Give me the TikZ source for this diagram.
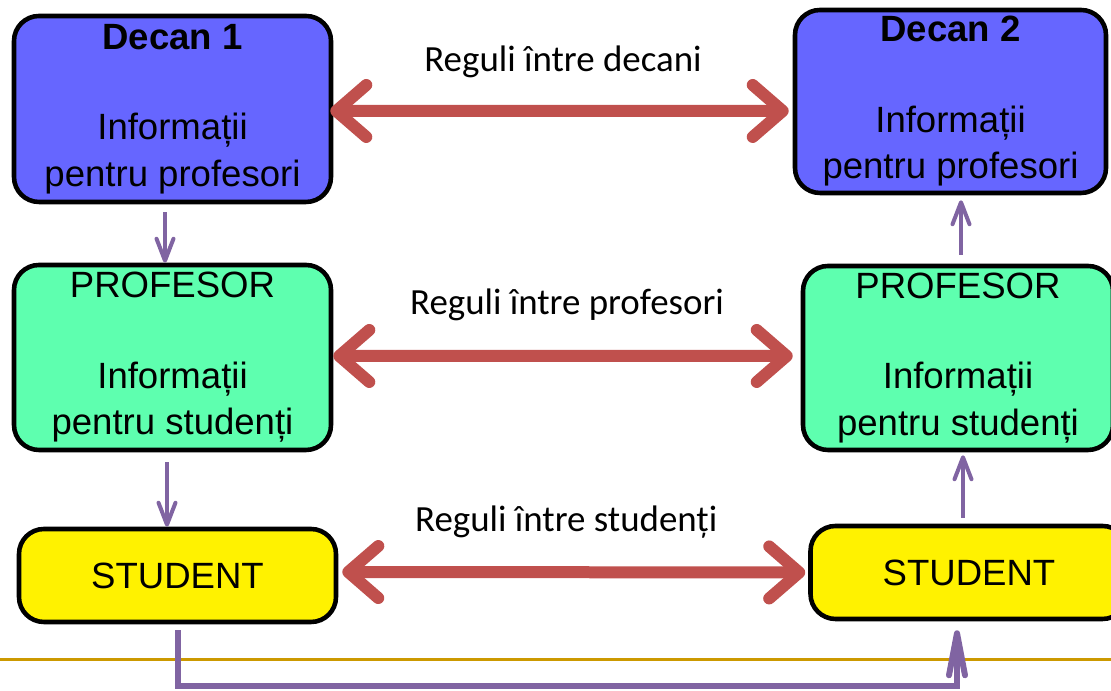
\documentclass[tikz,border=0pt]{standalone}
\usepackage{fontspec}
\setmainfont{Liberation Sans}
\newfontfamily\rulefont{Carlito}
\usetikzlibrary{arrows.meta}

\definecolor{decanblue}{HTML}{6666FF}
\definecolor{profgreen}{HTML}{5EFFAF}
\definecolor{rulered}{HTML}{C0504D}
\definecolor{flowpurple}{HTML}{8064A2}
\definecolor{linegold}{HTML}{CC9900}

\begin{document}
\begin{tikzpicture}
\tikzset{ box/.style={draw=black, line width=1.3pt, rounded corners=0.25cm, align=center, inner sep=0pt,
                      font=\fontsize{10.4}{13.3}\selectfont},
          rule/.style={{Straight Barb[round,length=0.3cm,width=0.52cm]}-{Straight Barb[round,length=0.3cm,width=0.52cm]},
                       line width=0.12cm, rulered},
          flow/.style={-{Straight Barb[round,length=0.22cm,width=0.17cm]}, line width=0.04cm, flowpurple},
          lbl/.style={font=\rulefont\fontsize{10.5}{12}\selectfont, inner sep=0pt, text=black},
}

\useasboundingbox (0,0) rectangle (11.11,6.91);
\clip (0,0) rectangle (11.11,6.91);

%\draw [lightgray, dashed](0,0) grid (11,7);

\node [box, fill=decanblue, minimum width=3.17cm, minimum height=1.86cm] (D1) at (1.725,5.82)
      {\textbf{Decan 1}\\[12.4pt]Informații\\pentru profesori};
\node [box, fill=decanblue, minimum width=3.11cm, minimum height=1.83cm] (D2) at (9.505,5.895)
      {\textbf{Decan 2}\\[12.4pt]Informații\\pentru profesori};
\node [box, fill=profgreen, minimum width=3.17cm, minimum height=1.85cm] (P1) at (1.725,3.335)
      {PROFESOR\\[12.4pt]Informații\\pentru studenți};
\node [box, fill=profgreen, minimum width=3.10cm, minimum height=1.84cm] (P2) at (9.58,3.33)
      {PROFESOR\\[12.4pt]Informații\\pentru studenți};
\node [box, fill=yellow, minimum width=3.17cm, minimum height=0.93cm] (S1) at (1.775,1.155) {STUDENT};
\node [box, fill=yellow, minimum width=3.17cm, minimum height=0.93cm] (S2) at (9.69,1.185) {STUDENT};

\draw [rule, shorten <=-0.03cm, shorten >=0.04cm] ([yshift=-0.2mm]D1.east) -- ([yshift=-0.95mm]D2.west)
      node [lbl, midway, yshift=0.49cm] (R1) {Reguli între decani};
\draw [rule, shorten >=0.08cm] ([yshift=0.15mm]P1.east) -- ([yshift=0.2mm]P2.west)
      node [lbl, midway, yshift=0.51cm] (R2) {Reguli între profesori};
\draw [rule, shorten <=0.04cm, shorten >=0.03cm] ([yshift=0.35mm]S1.east) -- (S2.west)
      node [lbl, midway, xshift=-0.07cm, yshift=0.5cm] (R3) {Reguli între studenți};

\draw [flow, shorten <=0.08cm] ([xshift=-0.75mm]D1.south) -- ([xshift=-0.75mm]D1.south |- P1.north);
\draw [flow, shorten <=0.1cm]  ([xshift=-0.55mm]P1.south) -- ([xshift=-0.55mm]P1.south |- S1.north);
\draw [flow, shorten <=0.06cm, shorten >=0.03cm] ([xshift=-0.6mm]S2.north) -- ([xshift=-0.6mm]S2.north |- P2.south);
\draw [flow, shorten <=0.09cm, shorten >=0.05cm] ([xshift=0.3mm]P2.north) -- ([xshift=0.3mm]P2.north |- D2.south);

\coordinate (GL) at (0,0.31);
\coordinate (GR) at (11.11,0.31);
\draw [linegold, line width=0.03cm] (GL) -- (GR);

\coordinate (B) at (0,0.05);
\draw [flow, line width=0.06cm, -{Straight Barb[round,length=0.42cm,width=0.16cm]}, shorten <=0.06cm, shorten >=0.09cm]
      (S1.south) -- (S1.south |- B) -| ([xshift=-1.2mm]S2.south);

\end{tikzpicture}
\end{document}
